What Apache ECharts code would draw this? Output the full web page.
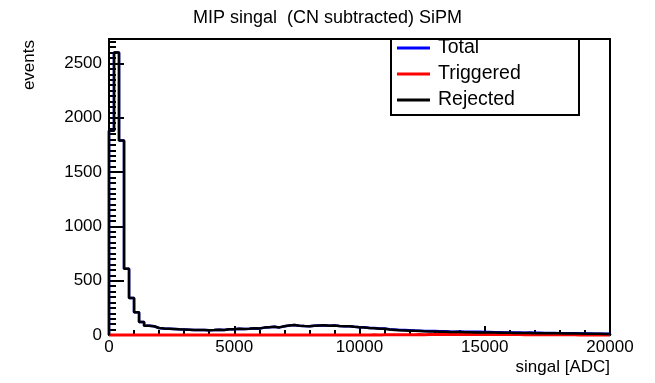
<!DOCTYPE html>
<html>
<head>
<meta charset="utf-8">
<script src="https://cdn.jsdelivr.net/npm/echarts@6/dist/echarts.min.js"></script>
<style>html,body{margin:0;padding:0;background:#fff}#c{width:655px;height:383px}</style>
</head>
<body>
<div id="c"></div>
<script>
// ---- data (histogram, 100 bins of 200 ADC from 0 to 20000) ----
const binWidth = 200;
const xTicks = [0, 5000, 10000, 15000, 20000];
const yTicks = [0, 500, 1000, 1500, 2000, 2500];
const seriesNames = ['Total', 'Triggered', 'Rejected'];

const rejected = [
  1880, 2600, 1790, 610, 340, 210, 120, 85, 80, 65,
  60, 58, 55, 52, 50, 48, 45, 45, 47, 44,
  45, 48, 47, 52, 52, 58, 55, 58, 62, 60,
  68, 72, 75, 70, 80, 88, 92, 85, 82, 80,
  85, 88, 90, 86, 87, 82, 80, 80, 75, 72,
  70, 64, 62, 58, 57, 50, 47, 44, 42, 40,
  38, 36, 34, 33, 32, 30, 29, 28, 27, 27,
  26, 25, 24, 24, 23, 22, 22, 21, 20, 20,
  19, 19, 18, 18, 17, 17, 16, 16, 15, 15,
  14, 14, 13, 13, 12, 12, 11, 11, 10, 10
];
const triggered = [
  0, 0, 0, 0, 0, 0, 0, 0, 0, 0,
  0, 0, 0, 0, 0, 0, 0, 0, 0, 0,
  0, 0, 0, 0, 0, 0, 0, 0, 0, 0,
  0, 0, 0, 0, 0, 0, 0, 0, 0, 0,
  0, 0, 0, 0, 0, 0, 0, 0, 0, 0,
  1, 1, 2, 1, 2, 2, 3, 2, 3, 3,
  3, 4, 3, 4, 4, 4, 5, 4, 4, 5,
  5, 4, 5, 5, 4, 5, 4, 5, 4, 4,
  4, 4, 3, 4, 3, 3, 3, 2, 3, 2,
  2, 2, 2, 1, 2, 1, 1, 1, 1, 1
];
const total = [
  1880, 2600, 1790, 610, 340, 210, 120, 85, 80, 65,
  60, 58, 55, 52, 50, 48, 45, 45, 47, 44,
  45, 48, 47, 52, 52, 58, 55, 58, 62, 60,
  68, 72, 75, 70, 80, 88, 92, 85, 82, 80,
  85, 88, 90, 86, 87, 82, 80, 80, 75, 72,
  71, 65, 64, 59, 59, 52, 50, 46, 45, 43,
  41, 40, 37, 37, 36, 34, 34, 32, 31, 32,
  31, 29, 29, 29, 27, 27, 26, 26, 24, 24,
  23, 23, 21, 22, 20, 20, 19, 18, 18, 17,
  16, 16, 15, 14, 14, 13, 12, 12, 11, 11
];

function histPoints(vals) {
  const pts = [[0, 0]];
  vals.forEach((v, i) => pts.push([i * binWidth, v]));
  const end = vals.length * binWidth;
  pts.push([end, vals[vals.length - 1]]);
  pts.push([end, 0]);
  return pts;
}

const FONT = 'Liberation Sans';
const chart = echarts.init(document.getElementById('c'), null, {renderer: 'canvas'});

function histSeries(name, vals, color, width) {
  return {
    name: name, type: 'line', step: 'end', data: histPoints(vals),
    symbol: 'none', showSymbol: false, clip: false, animation: false,
    lineStyle: {color: color, width: width}, itemStyle: {color: color}
  };
}

chart.setOption({
  animation: false,
  backgroundColor: '#fff',
  title: {
    text: 'MIP singal  (CN subtracted) SiPM', left: 'center', top: 4,
    textStyle: {fontFamily: FONT, fontSize: 18, fontWeight: 'normal', color: '#000'}
  },
  grid: {left: 109, right: 45, top: 39, bottom: 48, show: true, borderColor: '#000', borderWidth: 2, backgroundColor: 'transparent'},
  xAxis: {
    type: 'value', min: xTicks[0], max: xTicks[xTicks.length - 1], interval: 5000,
    name: 'singal [ADC]', nameLocation: 'end', nameGap: 0,
    nameTextStyle: {fontFamily: FONT, fontSize: 17, color: '#000', align: 'right', verticalAlign: 'top', padding: [24, 0, 0, 0]},
    axisLine: {show: true, lineStyle: {color: '#000', width: 2}},
    axisTick: {show: true, inside: true, length: 9, lineStyle: {color: '#000', width: 2}},
    minorTick: {show: true, splitNumber: 5, length: 5, lineStyle: {color: '#000', width: 2}},
    axisLabel: {fontFamily: FONT, fontSize: 17, color: '#000', margin: 4, formatter: v => String(v)},
    splitLine: {show: false}
  },
  yAxis: {
    type: 'value', min: yTicks[0], max: 2725, interval: 500,
    axisLine: {show: true, lineStyle: {color: '#000', width: 2}},
    axisTick: {show: true, inside: true, length: 15, lineStyle: {color: '#000', width: 2}},
    minorTick: {show: true, splitNumber: 10, length: 7, lineStyle: {color: '#000', width: 2}},
    axisLabel: {fontFamily: FONT, fontSize: 17, color: '#000', margin: 7, showMaxLabel: false, formatter: v => String(v)},
    splitLine: {show: false}
  },
  legend: {
    data: seriesNames, orient: 'vertical', left: 397, top: 38, padding: 0,
    icon: 'rect', itemWidth: 33, itemHeight: 3, itemGap: 6,
    textStyle: {fontFamily: FONT, fontSize: 19.5, color: '#000', lineHeight: 20, padding: [0, 0, 0, 3]}
  },
  graphic: [
    {type: 'rect', z: 1, shape: {x: 391, y: 39, width: 188, height: 76}, style: {fill: '#fff', stroke: '#000', lineWidth: 2}},
    {type: 'text', x: 21, y: 40, rotation: Math.PI / 2, style: {text: 'events', fill: '#000', font: '17px "Liberation Sans"', textAlign: 'right', textVerticalAlign: 'top'}}
  ],
  series: [
    histSeries(seriesNames[0], total, '#0000ff', 2.5),
    histSeries(seriesNames[1], triggered, '#ff0000', 3),
    histSeries(seriesNames[2], rejected, '#000000', 2.5)
  ]
});
</script>
</body>
</html>
